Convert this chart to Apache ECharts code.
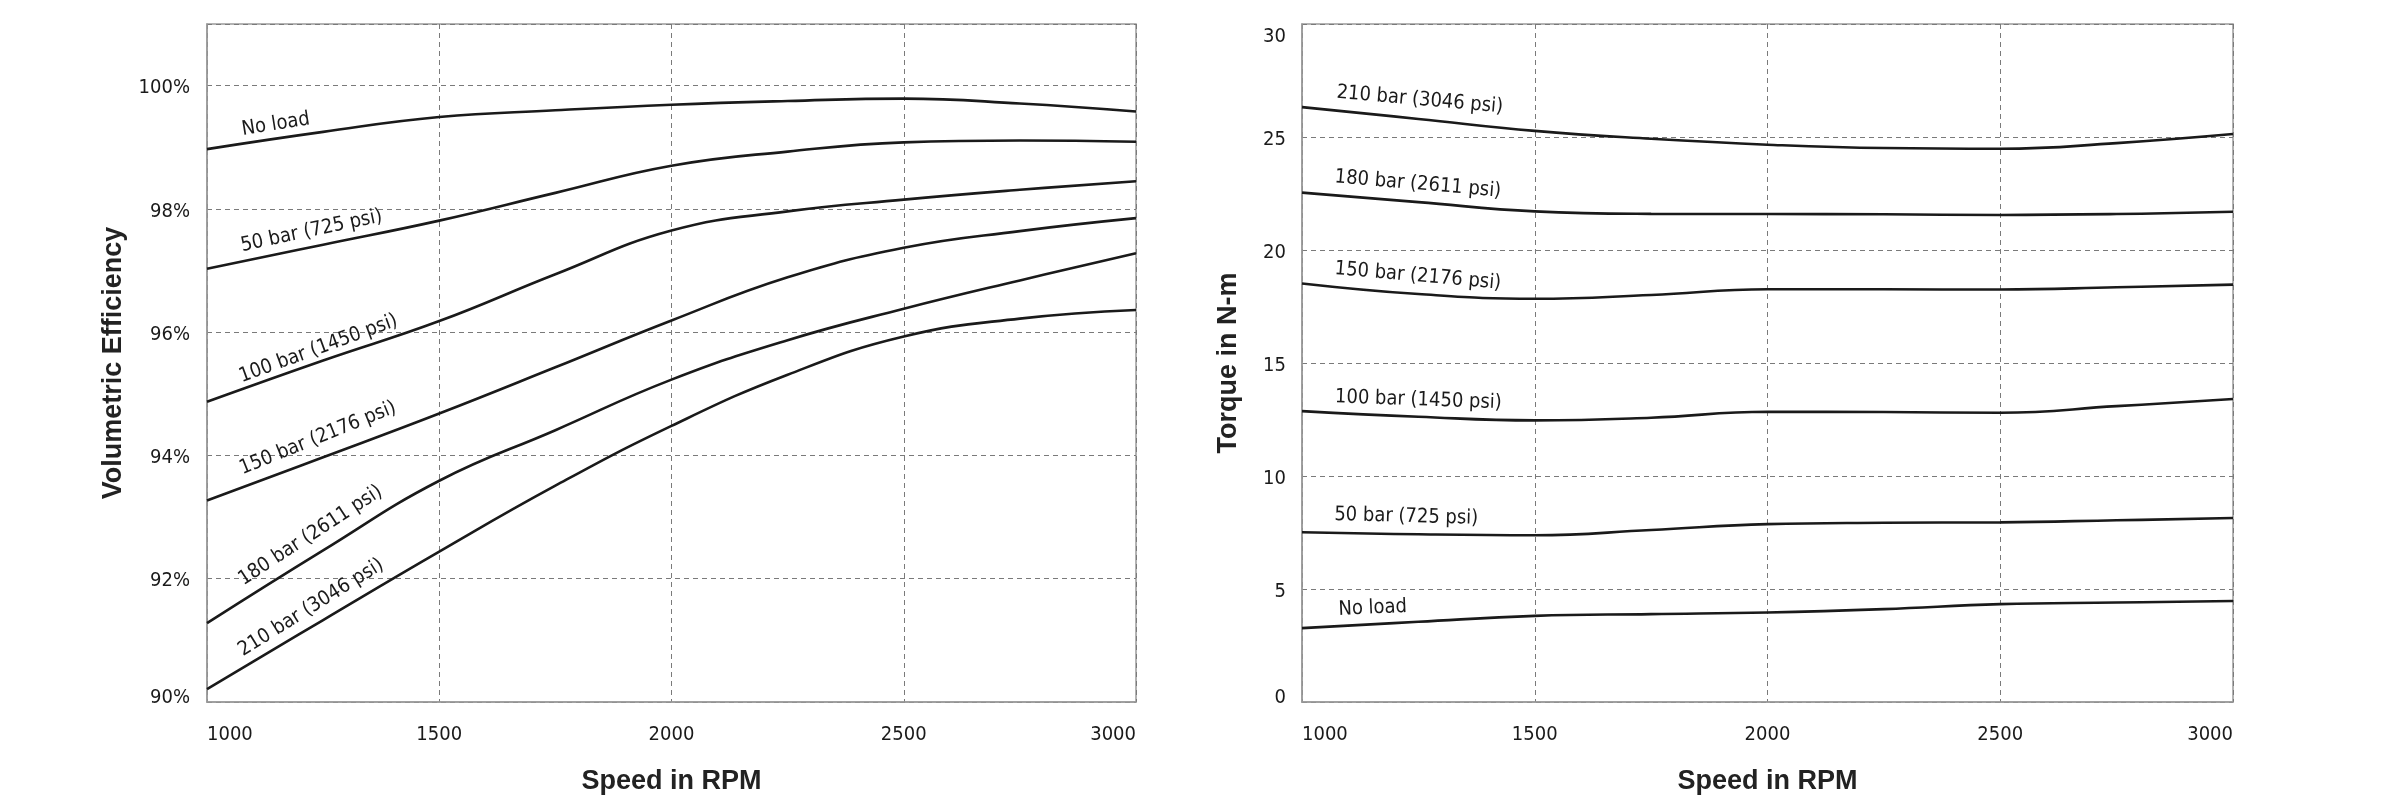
<!DOCTYPE html>
<html>
<head>
<meta charset="utf-8">
<script src="https://cdn.jsdelivr.net/npm/echarts@6/dist/echarts.min.js"></script>
<style>
  html, body { margin: 0; padding: 0; background: #fff; }
  #main { width: 2400px; height: 800px; }
</style>
</head>
<body>
<div id="main"></div>
<script>
// speed axis samples (RPM)
const rpm = [1000, 1250, 1500, 1750, 2000, 2250, 2500, 2750, 3000];
const curveNames = ['No load', '50 bar (725 psi)', '100 bar (1450 psi)', '150 bar (2176 psi)', '180 bar (2611 psi)', '210 bar (3046 psi)'];

// volumetric efficiency (%)
const effNoLoad = [98.97, 99.25, 99.49, 99.60, 99.69, 99.75, 99.79, 99.71, 99.58];
const eff50 = [97.03, 97.42, 97.81, 98.26, 98.70, 98.93, 99.08, 99.11, 99.09];
const eff100 = [94.87, 95.54, 96.18, 96.94, 97.65, 97.96, 98.15, 98.31, 98.45];
const eff150 = [93.27, 93.97, 94.68, 95.43, 96.19, 96.89, 97.37, 97.64, 97.85];
const eff180 = [91.28, 92.46, 93.59, 94.41, 95.23, 95.87, 96.38, 96.84, 97.28];
const eff210 = [90.21, 91.33, 92.44, 93.51, 94.48, 95.31, 95.93, 96.22, 96.36];

// torque (N-m)
const tqNoLoad = [3.27, 3.55, 3.81, 3.89, 3.96, 4.11, 4.33, 4.40, 4.47];
const tq50 = [7.51, 7.42, 7.38, 7.61, 7.87, 7.93, 7.95, 8.04, 8.14];
const tq100 = [12.87, 12.62, 12.46, 12.58, 12.84, 12.83, 12.80, 13.09, 13.41];
const tq150 = [18.52, 18.05, 17.84, 18.01, 18.26, 18.26, 18.25, 18.35, 18.47];
const tq180 = [22.54, 22.12, 21.71, 21.60, 21.59, 21.58, 21.55, 21.59, 21.69];
const tq210 = [26.32, 25.80, 25.27, 24.92, 24.66, 24.51, 24.48, 24.73, 25.13];

const effTicks = [90, 92, 94, 96, 98, 100];
const torqueTicks = [0, 5, 10, 15, 20, 25, 30];

// where the curve captions sit: [rpm, value, angle]
const effCaptions = [[1148, 99.37, 9], [1225, 97.64, 12], [1240, 95.73, 20], [1239, 94.28, 22], [1223, 92.70, 33], [1224, 91.53, 32]];
const tqCaptions = [[1152, 4.15, 2.5], [1224, 8.20, -1.5], [1250, 13.36, -2], [1249, 18.84, -5], [1249, 22.91, -5], [1253, 26.64, -5]];

const narrow = "'Liberation Sans Narrow', 'DejaVu Sans Condensed', sans-serif";
const bold = "'Liberation Sans', Arial, sans-serif";
const ink = '#1a1a1a';
const frame = '#9a9a9a';
const dashCol = '#7a7a7a';

const chart = echarts.init(document.getElementById('main'));

function makeSeries(values, name, gridIdx, caption) {
  return {
    type: 'line',
    name: name,
    xAxisIndex: gridIdx,
    yAxisIndex: gridIdx,
    data: rpm.map((r, i) => [r, values[i]]),
    smooth: 0.45,
    symbol: 'none',
    lineStyle: { color: ink, width: 2.6 },
    silent: true,
    markPoint: {
      symbol: 'circle',
      symbolSize: 0,
      silent: true,
      label: {
        show: true,
        position: 'inside',
        formatter: name,
        rotate: caption[2],
        color: ink,
        fontFamily: narrow,
        fontSize: 20
      },
      data: [{ coord: [caption[0], caption[1]] }]
    }
  };
}

function xAxisFor(gridIdx) {
  return {
    type: 'value',
    gridIndex: gridIdx,
    min: 1000,
    max: 3000,
    interval: 500,
    name: 'Speed in RPM',
    nameLocation: 'middle',
    nameGap: 66,
    nameTextStyle: { fontFamily: bold, fontWeight: 'bold', fontSize: 27, color: '#222' },
    axisLine: { show: true, lineStyle: { color: frame, width: 1.5 } },
    axisTick: { show: false },
    axisLabel: {
      fontFamily: narrow, fontSize: 20, color: ink, margin: 23,
      alignMinLabel: 'left', alignMaxLabel: 'right',
      formatter: v => String(v)
    },
    splitLine: { show: true, lineStyle: { color: dashCol, type: [5, 4], width: 1 } }
  };
}

const effSeries = [effNoLoad, eff50, eff100, eff150, eff180, eff210];
const tqSeries = [tqNoLoad, tq50, tq100, tq150, tq180, tq210];

const series = [];
effSeries.forEach((v, i) => series.push(makeSeries(v, curveNames[i], 0, effCaptions[i])));
tqSeries.forEach((v, i) => series.push(makeSeries(v, curveNames[i], 1, tqCaptions[i])));

// n: regular tick, lo: bottom tick (lifted), hi: top tick (dropped)
const labelRich = {
  n: { fontFamily: narrow, fontSize: 20, color: ink, padding: [5, 0, 0, 0] },
  lo: { fontFamily: narrow, fontSize: 20, color: ink, padding: [0, 0, 8, 0] },
  hi: { fontFamily: narrow, fontSize: 20, color: ink, padding: [26, 0, 0, 0] }
};

const option = {
  animation: false,
  backgroundColor: '#fff',
  grid: [
    { left: 207, right: 1264, top: 24, bottom: 91, show: true, borderColor: frame, borderWidth: 1.5 },
    { left: 1302, right: 167, top: 24, bottom: 91, show: true, borderColor: frame, borderWidth: 1.5 }
  ],
  xAxis: [xAxisFor(0), xAxisFor(1)],
  yAxis: [
    {
      type: 'value',
      gridIndex: 0,
      min: 90,
      max: 101,
      interval: 2,
      name: 'Volumetric Efficiency',
      nameLocation: 'middle',
      nameGap: 80,
      nameTextStyle: { fontFamily: bold, fontWeight: 'bold', fontSize: 27, color: '#222' },
      axisLine: { show: true, lineStyle: { color: frame, width: 1.5 } },
      axisTick: { show: false },
      axisLabel: {
        margin: 17,
        formatter: v => {
          if (!effTicks.includes(v)) return '';
          return v === effTicks[0] ? '{lo|' + v + '%}' : '{n|' + v + '%}';
        },
        rich: labelRich
      },
      splitLine: { show: true, lineStyle: { color: dashCol, type: [5, 4], width: 1 } }
    },
    {
      type: 'value',
      gridIndex: 1,
      min: 0,
      max: 30,
      interval: 5,
      name: 'Torque in N-m',
      nameLocation: 'middle',
      nameGap: 60,
      nameTextStyle: { fontFamily: bold, fontWeight: 'bold', fontSize: 27, color: '#222' },
      axisLine: { show: true, lineStyle: { color: frame, width: 1.5 } },
      axisTick: { show: false },
      axisLabel: {
        margin: 16,
        formatter: v => {
          if (!torqueTicks.includes(v)) return '';
          if (v === torqueTicks[0]) return '{lo|' + v + '}';
          if (v === torqueTicks[torqueTicks.length - 1]) return '{hi|' + v + '}';
          return '{n|' + v + '}';
        },
        rich: labelRich
      },
      splitLine: { show: true, lineStyle: { color: dashCol, type: [5, 4], width: 1 } }
    }
  ],
  series: series
};

chart.setOption(option);
</script>
</body>
</html>
